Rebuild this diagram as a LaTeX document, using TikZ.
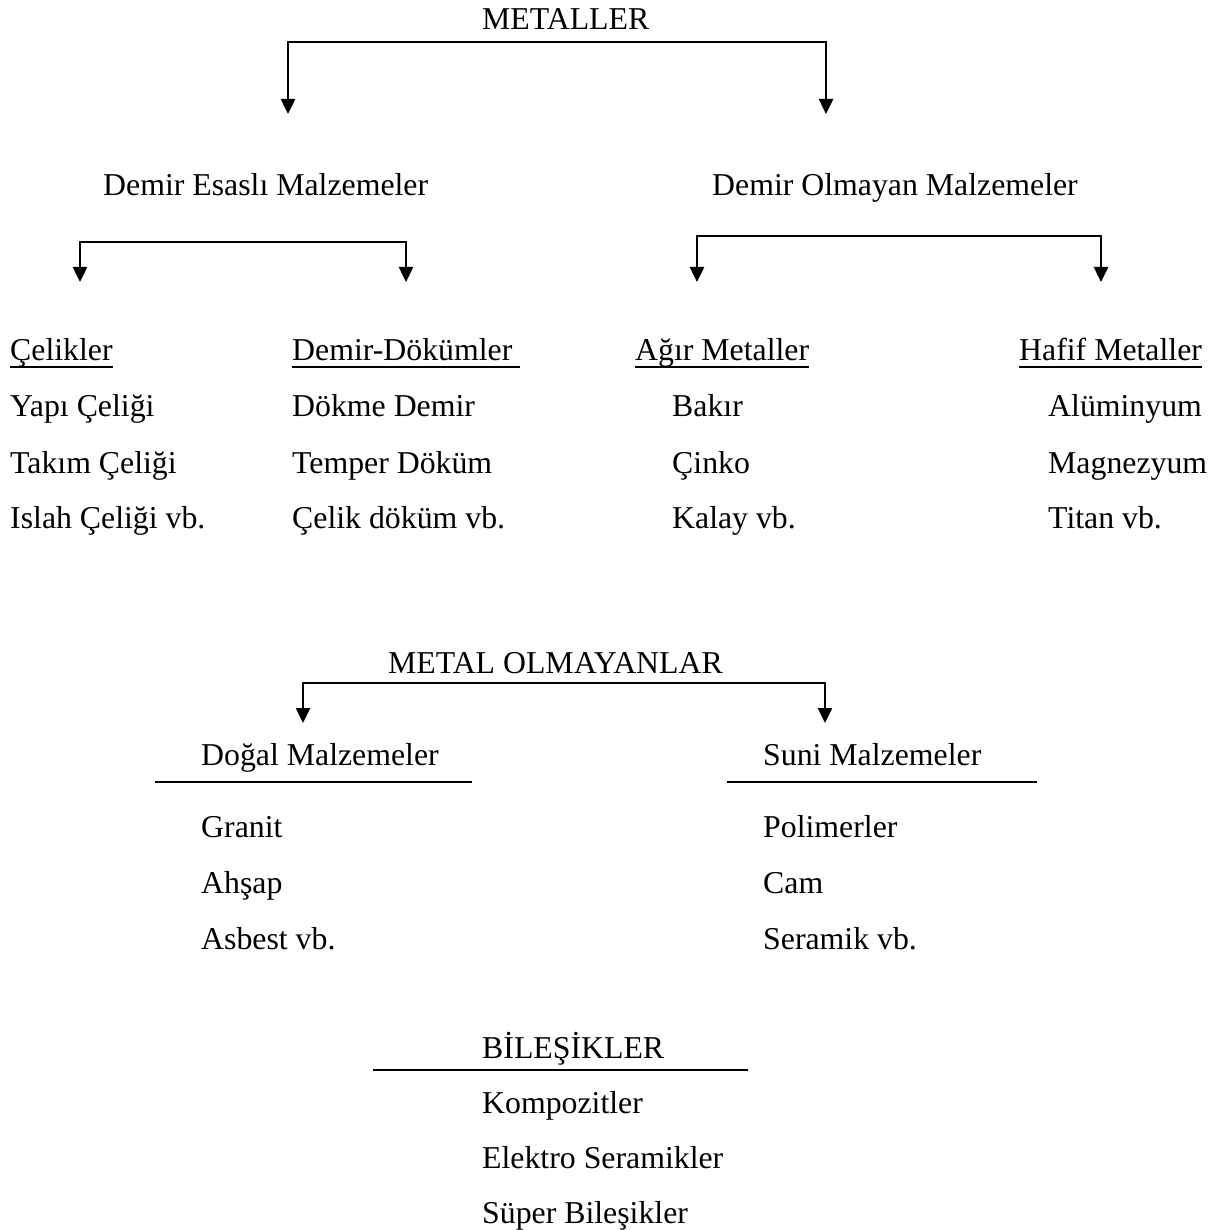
\documentclass[tikz,border=0pt]{standalone}
\usepackage{fontspec}
\setmainfont{Liberation Serif}
\usetikzlibrary{arrows.meta}
\begin{document}
\begin{tikzpicture}[x=1pt,y=-1pt,
  txt/.style={inner sep=0pt, anchor=base west, font=\fontsize{31.8}{38}\selectfont},
  arr/.style={line width=2.5pt, -{Triangle[width=14pt,length=15pt]}},
  rule/.style={line width=2pt},
  uline/.style={line width=1.8pt}]
\useasboundingbox[fill=white] (0,0) rectangle (1232,1230);

% ---------- METALLER ----------
\node[txt] (met) at (482,30) {METALLER};
\coordinate (b0) at (557,42);
\coordinate (t1) at (288,114);
\coordinate (t2) at (826,114);
\draw[arr] (b0) -| (t1);
\draw[arr] (b0) -| (t2);

\node[txt] (des) at (103,196) {Demir Esaslı Malzemeler};
\node[txt] (dom) at (712,196) {Demir Olmayan Malzemeler};

\coordinate (b1) at (243,242);
\coordinate (t11) at (80,282);
\coordinate (t12) at (406,282);
\draw[arr] (b1) -| (t11);
\draw[arr] (b1) -| (t12);

\coordinate (b2) at (899,236);
\coordinate (t21) at (697,282);
\coordinate (t22) at (1101,282);
\draw[arr] (b2) -| (t21);
\draw[arr] (b2) -| (t22);

% column 1
\node[txt] (c1h) at (10,361) {Çelikler};
\node[txt] (c1a) at (10,417) {Yapı Çeliği};
\node[txt] (c1b) at (10,473) {Takım Çeliği};
\node[txt] (c1c) at (10,528) {Islah Çeliği vb.};
% column 2
\node[txt] (c2h) at (292,361) {Demir-Dökümler};
\node[txt] (c2a) at (292,417) {Dökme Demir};
\node[txt] (c2b) at (292,473) {Temper Döküm};
\node[txt] (c2c) at (292,528) {Çelik döküm vb.};
% column 3
\node[txt] (c3h) at (635,361) {Ağır Metaller};
\node[txt] (c3a) at (672,417) {Bakır};
\node[txt] (c3b) at (672,473) {Çinko};
\node[txt] (c3c) at (672,528) {Kalay vb.};
% column 4
\node[txt] (c4h) at (1019,361) {Hafif Metaller};
\node[txt] (c4a) at (1048,417) {Alüminyum};
\node[txt] (c4b) at (1048,473) {Magnezyum};
\node[txt] (c4c) at (1048,528) {Titan vb.};

\draw[uline] ([yshift=-6pt]c1h.base west) -- ([yshift=-6pt]c1h.base east);
\draw[uline] ([yshift=-6pt]c2h.base west) -- ([yshift=-6pt,xshift=7pt]c2h.base east);
\draw[uline] ([yshift=-6pt]c3h.base west) -- ([yshift=-6pt]c3h.base east);
\draw[uline] ([yshift=-6pt]c4h.base west) -- ([yshift=-6pt]c4h.base east);

% ---------- METAL OLMAYANLAR ----------
\node[txt] (mo) at (388,673) {METAL OLMAYANLAR};
\coordinate (b3) at (564,683);
\coordinate (t31) at (303,723);
\coordinate (t32) at (825,723);
\draw[arr] (b3) -| (t31);
\draw[arr] (b3) -| (t32);

\node[txt] (dm) at (201,765) {Doğal Malzemeler};
\node[txt] (sm) at (763,765) {Suni Malzemeler};
\coordinate (dl1) at (155,782);
\coordinate (dl2) at (472,782);
\draw[rule] (dl1) -- (dl2);
\coordinate (sl1) at (727,782);
\coordinate (sl2) at (1037,782);
\draw[rule] (sl1) -- (sl2);

\node[txt] (d1) at (201,837) {Granit};
\node[txt] (d2) at (201,893) {Ahşap};
\node[txt] (d3) at (201,949) {Asbest vb.};
\node[txt] (s1) at (763,837) {Polimerler};
\node[txt] (s2) at (763,893) {Cam};
\node[txt] (s3) at (763,949) {Seramik vb.};

% ---------- BİLEŞİKLER ----------
\node[txt] (bil) at (482,1058) {BİLEŞİKLER};
\coordinate (bl1) at (373,1070);
\coordinate (bl2) at (748,1070);
\draw[rule] (bl1) -- (bl2);
\node[txt] (k1) at (482,1113) {Kompozitler};
\node[txt] (k2) at (482,1168) {Elektro Seramikler};
\node[txt] (k3) at (482,1223) {Süper Bileşikler};
\end{tikzpicture}
\end{document}
